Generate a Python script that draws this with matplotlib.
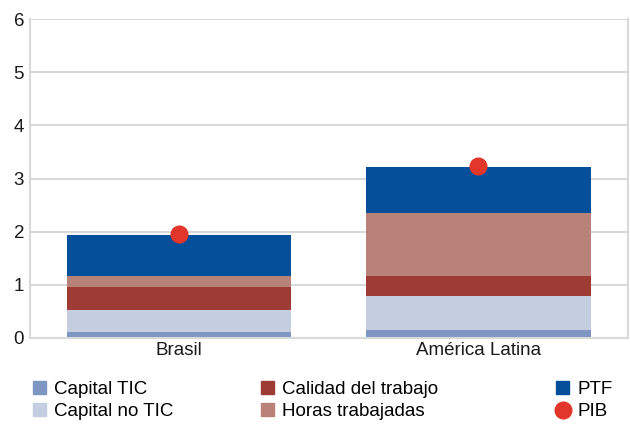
import numpy as np
import matplotlib
matplotlib.use("Agg")
import matplotlib.pyplot as plt
from matplotlib.patches import Patch
from matplotlib.lines import Line2D

plt.rcParams['font.family'] = ['Liberation Sans', 'DejaVu Sans']

paises = ['Brasil', 'América Latina']
capital_tic = [0.12, 0.14]
capital_no_tic = [0.41, 0.64]
calidad_trabajo = [0.43, 0.39]
horas_trabajadas = [0.21, 1.19]
ptf = [0.77, 0.86]
pib = [1.95, 3.23]

series = [
    ('Capital TIC', capital_tic, '#7f96c3'),
    ('Capital no TIC', capital_no_tic, '#c5cde0'),
    ('Calidad del trabajo', calidad_trabajo, '#9e3b34'),
    ('Horas trabajadas', horas_trabajadas, '#b98279'),
    ('PTF', ptf, '#034f99'),
]

fig = plt.figure(figsize=(6.3, 4.24), dpi=100)
ax = fig.add_axes([0.047, 0.203, 0.95, 0.752])

x = np.arange(len(paises))
base = np.zeros(len(paises))
for nombre, valores, color in series:
    ax.bar(x, valores, 0.75, bottom=base, color=color, zorder=2)
    base += np.array(valores)

ax.plot(x, pib, 'o', color='#e3362b', markersize=12, zorder=3)

ax.set_xlim(-0.5, 1.5)
ax.set_ylim(0, 6)
ax.set_yticks(range(0, 7))
ax.set_xticks(x)
ax.set_xticklabels(paises)
ax.tick_params(axis='both', labelsize=13.5, length=0, colors='#1a1a1a')
ax.tick_params(axis='y', pad=4)
ax.tick_params(axis='x', pad=3)
ax.grid(axis='y', color='#d9d9d9', linewidth=1.5, zorder=0)
for lado in ['left', 'right', 'bottom']:
    ax.spines[lado].set_color('#d9d9d9')
    ax.spines[lado].set_linewidth(1.5)
ax.spines['top'].set_visible(False)

# leyenda en tres columnas
handles = [Patch(color=c) for _, _, c in series]
handles.append(Line2D([], [], marker='o', linestyle='', color='#e3362b', markersize=12))
etiquetas = [s[0] for s in series] + ['PIB']
grupos = [(0, 2, 0.052), (2, 4, 0.414), (4, 6, 0.883)]
for ini, fin, xpos in grupos:
    fig.legend(handles[ini:fin], etiquetas[ini:fin], loc='upper left',
               bbox_to_anchor=(xpos, 0.102), frameon=False, fontsize=13.5,
               handlelength=0.7, handleheight=0.7, handletextpad=0.45,
               labelspacing=0.27, borderaxespad=0, borderpad=0)

fig.savefig('out.png', dpi=100)
